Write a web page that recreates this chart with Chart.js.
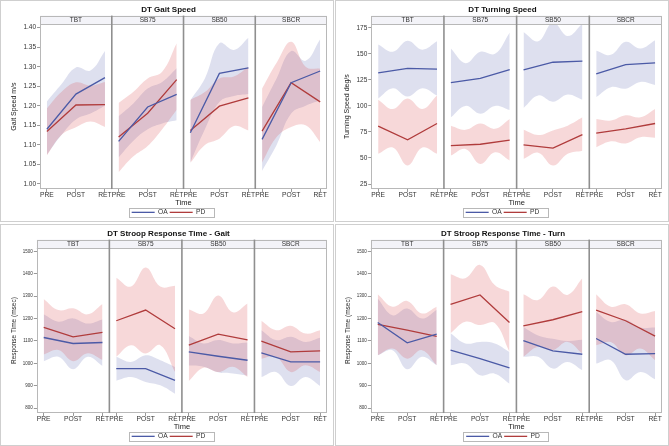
<!DOCTYPE html>
<html><head><meta charset="utf-8">
<script src="https://cdn.jsdelivr.net/npm/chart.js@4"></script>
<style>
html,body{margin:0;padding:0;background:#fff;}
body{width:669px;height:446px;position:relative;overflow:hidden;}
.panel{position:absolute;width:332px;height:220px;border:1px solid #cfcfcf;background:#fff;}
.panel canvas{display:block;}
</style></head><body>
<div class="panel" style="left:0;top:0"><canvas id="c1" width="332" height="220"></canvas></div>
<div class="panel" style="left:335px;top:0"><canvas id="c2" width="332" height="220"></canvas></div>
<div class="panel" style="left:0;top:224px"><canvas id="c3" width="332" height="220"></canvas></div>
<div class="panel" style="left:335px;top:224px"><canvas id="c4" width="332" height="220"></canvas></div>
<script>
const facetNames = ['TBT','SB75','SB50','SBCR'];
const timeLabels = ['PRE','POST','RET'];

// ---- DT Gait Speed (m/s) ----
const gaitOA   = [[1.140,1.230,1.272],[1.109,1.197,1.229],[1.131,1.283,1.297],[1.114,1.259,1.289]];
const gaitPD   = [[1.134,1.202,1.203],[1.120,1.181,1.267],[1.137,1.199,1.220],[1.135,1.259,1.210]];
// band edges at PRE, mid, POST, mid, RET
const gaitOAUp = [[1.211,1.255,1.298,1.290,1.340],[1.173,1.205,1.244,1.261,1.296],[1.214,1.270,1.360,1.343,1.374],[1.197,1.270,1.340,1.315,1.370]];
const gaitOALo = [[1.075,1.125,1.165,1.180,1.200],[1.068,1.110,1.140,1.155,1.163],[1.055,1.140,1.210,1.225,1.230],[1.034,1.100,1.180,1.200,1.214]];
const gaitPDUp = [[1.193,1.235,1.260,1.252,1.261],[1.207,1.235,1.270,1.287,1.360],[1.215,1.235,1.270,1.275,1.300],[1.244,1.310,1.364,1.300,1.295]];
const gaitPDLo = [[1.073,1.125,1.145,1.160,1.146],[1.030,1.070,1.097,1.140,1.190],[1.054,1.100,1.116,1.148,1.137],[1.055,1.120,1.146,1.150,1.107]];
const gaitTicks = [1.00,1.05,1.10,1.15,1.20,1.25,1.30,1.35,1.40];

// ---- DT Turning Speed (deg/s) ----
const turnOA   = [[131.6,136.1,135.2],[122.3,126.5,134.9],[134.5,141.9,142.9],[130.7,139.7,141.3]];
const turnPD   = [[80.6,67.4,83.1],[61.9,63.2,67.1],[62.6,59.4,72.5],[73.8,78.0,83.1]];
const turnOAUp = [[159,152,162.5,154,162],[155,141,152,150,170.5],[171,162,180,167,179],[153,149,161.5,155,163]];
const turnOALo = [[107,117,109,117,110],[89,100,92.5,100,96],[98,110,104,111,106],[108.5,118,116.5,123,120]];
const turnPDUp = [[106,97,107,97,110],[81,77,83,78,87.5],[77,72,76.5,81,89],[87.5,86,91,89,97]];
const turnPDLo = [[54,60,42.7,60,54],[52.3,58.7,44.3,55.5,47.5],[49,55,42.7,54,57],[60.3,66,64,70,69.5]];
const turnTicks = [25,50,75,100,125,150,175];

// ---- DT Stroop Response Time - Gait (msec) ----
const sgOA   = [[1115.6,1088.7,1093.2],[976.5,976.5,924.2],[1051.3,1031.8,1013.9],[1046.8,1006.4,1006.4]];
const sgPD   = [[1160.5,1118.6,1138],[1190.4,1238.2,1154.5],[1081.2,1130.6,1105.1],[1099.2,1051.3,1055.8]];
const sgOAUp = [[1219,1186,1201,1178,1196],[1029,1006,1036,1014,984],[1122,1089,1104,1089,1093],[1148,1104,1119,1096,1114]];
const sgOALo = [[1009,1029,973.5,1029,988.5],[922.7,939,916.7,901.7,864.3],[990,985,960,955,945],[939,961.5,898.7,939,898.7]];
const sgPDUp = [[1288,1238,1246,1219,1265],[1383,1343,1428,1343,1347],[1241,1223,1303,1228,1267],[1190,1148,1168,1133,1148]];
const sgPDLo = [[1040,1060,1010,1045,1015],[1029,1081,1044,1081,961.5],[921,980,961,985,939],[1021,1029,961.5,991.5,961.5]];

// ---- DT Stroop Response Time - Turn (msec) ----
const stOA   = [[1182.9,1091.7,1130.6],[1058.8,1021.4,979.5],[1102.1,1055.8,1040.8],[1111.1,1040.8,1043.8]];
const stPD   = [[1173.9,1148.5,1120.1],[1263.7,1305.6,1182.9],[1168,1194.9,1230.8],[1238.2,1190.4,1121.6]];
const stOAUp = [[1290,1215,1245,1200,1240],[1134,1089,1096,1089,1051],[1163,1125,1110,1100,1105],[1230,1185,1195,1160,1160]];
const stOALo = [[1036,1059,973.5,1029,991.5],[991.5,999,946.6,954,909.2],[1029,1029,976.5,1006,969],[999,1014,924.2,961.5,928.7]];
const stPDUp = [[1309,1253,1279,1223,1253],[1398,1380,1440,1350,1320],[1309,1283,1343,1306,1380],[1309,1253,1264,1223,1234]];
const stPDLo = [[1036,1066,1021,1059,991.5],[1134,1186,1171,1180,1051],[1029,1074,1059,1096,1044],[1081,1095,1036,1066,1014]];
const stroopTicks = [800,900,1000,1100,1200,1300,1400,1500];

const FONT = "'Liberation Sans', Arial, Helvetica, sans-serif";
const OA_LINE = '#4b5aa6';
const PD_LINE = '#b03c3c';
const OA_BAND = 'rgba(90,100,175,0.20)';
const PD_BAND = 'rgba(215,60,65,0.20)';
const TIME_POS = [0.095, 0.5, 0.905];
const BAND_POS = [0.095, 0.2975, 0.5, 0.7025, 0.905];

function linePoints(series) {
  const pts = [];
  series.forEach((vals, k) => {
    vals.forEach((v, t) => pts.push({x: k + TIME_POS[t], y: v}));
    if (k < series.length - 1) pts.push({x: k + 1, y: null});
  });
  return pts;
}
function bandPoints(vals, k) { return vals.map((v, j) => ({x: k + BAND_POS[j], y: v})); }

const facetPlugin = {
  id: 'facetFrame',
  beforeDraw(chart) {
    const {ctx, chartArea: a, scales} = chart;
    const hdr = scales.x2;
    ctx.save();
    ctx.fillStyle = '#f3f3f8';
    ctx.fillRect(a.left, hdr.top, a.right - a.left, hdr.bottom - hdr.top);
    ctx.restore();
  },
  afterDatasetsDraw(chart) {
    const {ctx, chartArea: a, scales} = chart;
    const x = scales.x, hdr = scales.x2;
    ctx.save();
    ctx.strokeStyle = '#b8b8b8';
    ctx.lineWidth = 1;
    ctx.strokeRect(Math.round(a.left) + 0.5, Math.round(hdr.top) + 0.5,
                   Math.round(a.right - a.left) - 1, Math.round(a.bottom - hdr.top) - 1);
    ctx.beginPath();
    ctx.moveTo(a.left, Math.round(a.top) + 0.5);
    ctx.lineTo(a.right, Math.round(a.top) + 0.5);
    ctx.stroke();
    ctx.strokeStyle = '#8f8f8f';
    ctx.lineWidth = 1.6;
    for (let k = 1; k < facetNames.length; k++) {
      const px = x.getPixelForValue(k);
      ctx.beginPath();
      ctx.moveTo(px, hdr.top);
      ctx.lineTo(px, a.bottom);
      ctx.stroke();
    }
    ctx.restore();
  },
  afterDraw(chart) {
    const lg = chart.legend;
    if (!lg || !lg.legendHitBoxes || !lg.legendHitBoxes.length) return;
    let l = Infinity, r = -Infinity, t = Infinity, b = -Infinity;
    lg.legendHitBoxes.forEach(h => {
      l = Math.min(l, h.left); r = Math.max(r, h.left + h.width);
      t = Math.min(t, h.top); b = Math.max(b, h.top + h.height);
    });
    const ctx = chart.ctx;
    ctx.save();
    ctx.strokeStyle = '#b8b8b8';
    ctx.lineWidth = 1;
    ctx.strokeRect(Math.round(l - 3) + 0.5, Math.round(t - 1) + 0.5, Math.round(r - l + 11), Math.round(b - t + 2));
    ctx.restore();
  }
};

function makeChart(id, p) {
  const datasets = [
    {label: 'OA', data: linePoints(p.oa), xAxisID: 'x', yAxisID: 'y', borderColor: OA_LINE, backgroundColor: OA_LINE,
     borderWidth: 1.3, pointRadius: 0, fill: false, spanGaps: false, tension: 0},
    {label: 'PD', data: linePoints(p.pd), xAxisID: 'x', yAxisID: 'y', borderColor: PD_LINE, backgroundColor: PD_LINE,
     borderWidth: 1.3, pointRadius: 0, fill: false, spanGaps: false, tension: 0}
  ];
  for (let k = 0; k < facetNames.length; k++) {
    [[p.pdUp, p.pdLo, PD_BAND], [p.oaUp, p.oaLo, OA_BAND]].forEach(([up, lo, col]) => {
      datasets.push({label: '', data: bandPoints(up[k], k), xAxisID: 'x', yAxisID: 'y', fill: '+1',
        backgroundColor: col, borderWidth: 0, pointRadius: 0, tension: 0.4});
      datasets.push({label: '', data: bandPoints(lo[k], k), xAxisID: 'x', yAxisID: 'y', fill: false,
        backgroundColor: col, borderWidth: 0, pointRadius: 0, tension: 0.4});
    });
  }
  const timeTickVals = [];
  facetNames.forEach((f, k) => TIME_POS.forEach(t => timeTickVals.push(k + t)));
  return new Chart(document.getElementById(id), {
    type: 'line',
    data: {datasets},
    options: {
      responsive: false, animation: false, events: [],
      layout: {padding: {left: p.padLeft, right: 6, top: 0, bottom: 1}},
      plugins: {
        title: {display: true, text: p.title, color: '#111',
                font: {family: FONT, size: 8, weight: 'bold', lineHeight: 1.2}, padding: {top: 4, bottom: 1}},
        legend: {position: 'bottom', maxHeight: 13,
          labels: {filter: it => !!it.text, usePointStyle: true, pointStyle: 'line', pointStyleWidth: 23,
                   boxHeight: 6, color: '#333', font: {family: FONT, size: 6.7, lineHeight: 1}, padding: 2}},
        tooltip: {enabled: false}
      },
      scales: {
        x: {type: 'linear', position: 'bottom', min: 0, max: facetNames.length,
            afterBuildTicks: s => { s.ticks = timeTickVals.map(v => ({value: v})); },
            ticks: {autoSkip: false, maxRotation: 0, minRotation: 0, callback: (v, i) => timeLabels[i % timeLabels.length],
                    font: {family: FONT, size: 6.7, lineHeight: 1.0}, color: '#333', padding: 0},
            grid: {display: true, drawOnChartArea: false, drawTicks: true, tickLength: 3, color: '#9a9a9a'},
            border: {display: false},
            title: {display: true, text: 'Time', color: '#222', font: {family: FONT, size: 7.5, lineHeight: 1.1}, padding: {top: 0, bottom: 0}}},
        x2: {type: 'linear', position: 'top', min: 0, max: facetNames.length,
             afterBuildTicks: s => { s.ticks = facetNames.map((f, k) => ({value: k + 0.5})); },
             ticks: {autoSkip: false, maxRotation: 0, minRotation: 0, callback: (v, i) => facetNames[i],
                     font: {family: FONT, size: 6.5, lineHeight: 1.0}, color: '#333', padding: 1},
             grid: {display: false, drawTicks: false}, border: {display: false}},
        y: {type: 'linear', min: p.min, max: p.max,
            afterBuildTicks: s => { s.ticks = p.ticks.map(v => ({value: v})); },
            ticks: {callback: p.fmt, font: {family: FONT, size: p.yTickSize}, color: '#333', padding: 1},
            grid: {display: true, drawOnChartArea: false, drawTicks: true, tickLength: 3, color: '#9a9a9a'},
            border: {display: false},
            title: {display: true, text: p.yTitle, color: '#222', font: {family: FONT, size: p.yTitleSize},
                    padding: {top: 0, bottom: 4}}}
      }
    },
    plugins: [facetPlugin]
  });
}

makeChart('c1', {title: 'DT Gait Speed', yTitle: 'Gait Speed m/s', min: 0.987, max: 1.409, ticks: gaitTicks,
  fmt: v => Number(v).toFixed(2), yTickSize: 6.5, yTitleSize: 7, padLeft: 9,
  oa: gaitOA, pd: gaitPD, oaUp: gaitOAUp, oaLo: gaitOALo, pdUp: gaitPDUp, pdLo: gaitPDLo});
makeChart('c2', {title: 'DT Turning Speed', yTitle: 'Turning Speed deg/s', min: 20.2, max: 178.5, ticks: turnTicks,
  fmt: v => String(v), yTickSize: 6.5, yTitleSize: 7, padLeft: 7,
  oa: turnOA, pd: turnPD, oaUp: turnOAUp, oaLo: turnOALo, pdUp: turnPDUp, pdLo: turnPDLo});
makeChart('c3', {title: 'DT Stroop Response Time - Gait', yTitle: 'Response Time (msec)', min: 778, max: 1515, ticks: stroopTicks,
  fmt: v => String(v), yTickSize: 4.5, yTitleSize: 6.5, padLeft: 9,
  oa: sgOA, pd: sgPD, oaUp: sgOAUp, oaLo: sgOALo, pdUp: sgPDUp, pdLo: sgPDLo});
makeChart('c4', {title: 'DT Stroop Response Time - Turn', yTitle: 'Response Time (msec)', min: 778, max: 1515, ticks: stroopTicks,
  fmt: v => String(v), yTickSize: 4.5, yTitleSize: 6.5, padLeft: 8,
  oa: stOA, pd: stPD, oaUp: stOAUp, oaLo: stOALo, pdUp: stPDUp, pdLo: stPDLo});
</script>
</body></html>
